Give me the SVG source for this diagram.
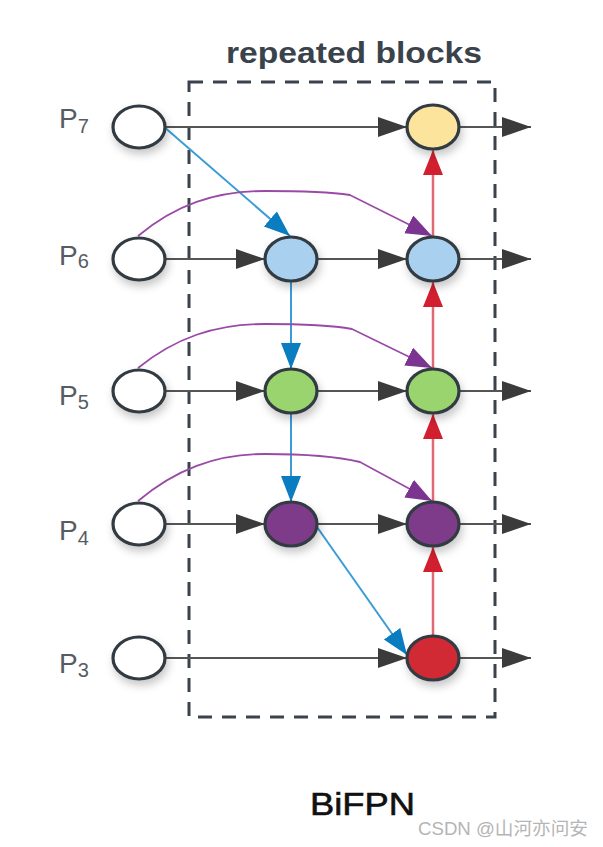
<svg xmlns="http://www.w3.org/2000/svg" width="603" height="847" viewBox="0 0 603 847">
<style>
.node{stroke:#333b43;stroke-width:3.2;filter:url(#sh)}
.row{stroke:#555;stroke-width:2;fill:none}
.blue{stroke:#3a9cd6;stroke-width:2;fill:none}
.red{stroke:#e06a74;stroke-width:2.5;fill:none}
.pur{stroke:#9a4aa6;stroke-width:1.8;fill:none}
.lab{font-family:"Liberation Sans",Arial,sans-serif;fill:#565c63}
</style>
<defs>
<filter id="sh" x="-50%" y="-50%" width="200%" height="200%">
<feDropShadow dx="2" dy="5" stdDeviation="4" flood-color="#000" flood-opacity="0.22"/>
</filter>
<marker id="ak" markerUnits="userSpaceOnUse" markerWidth="32" markerHeight="22" refX="29" refY="10" orient="auto"><path d="M0,0 L29,10 L0,20 z" fill="#3b3b3b"/></marker>
<marker id="ab" markerUnits="userSpaceOnUse" markerWidth="28" markerHeight="22" refX="26" refY="10" orient="auto"><path d="M0,0 L26,10 L0,20 z" fill="#0a7cc0"/></marker>
<marker id="ar" markerUnits="userSpaceOnUse" markerWidth="28" markerHeight="22" refX="25" refY="10" orient="auto"><path d="M0,0 L25,10 L0,20 z" fill="#d21f30"/></marker>
<marker id="ap" markerUnits="userSpaceOnUse" markerWidth="28" markerHeight="22" refX="26" refY="10" orient="auto"><path d="M0,0 L26,10 L0,20 z" fill="#7b3590"/></marker>
</defs>
<rect width="603" height="847" fill="#fff"/>
<g id="block">
<rect x="189" y="82" width="306" height="635" fill="none" stroke="#3a424b" stroke-width="3" stroke-dasharray="14 10"/>
<text x="226" y="63" font-family="Liberation Sans,Arial,sans-serif" font-weight="bold" font-size="30" fill="#3a424b" textLength="256" lengthAdjust="spacingAndGlyphs">repeated blocks</text>
</g>
<g id="connectors">
<line class="row" x1="165" y1="127" x2="407" y2="127" marker-end="url(#ak)"/>
<line class="row" x1="459" y1="127" x2="531" y2="127" marker-end="url(#ak)"/>
<line class="row" x1="165" y1="259" x2="265" y2="259" marker-end="url(#ak)"/>
<line class="row" x1="317" y1="259" x2="407" y2="259" marker-end="url(#ak)"/>
<line class="row" x1="459" y1="259" x2="531" y2="259" marker-end="url(#ak)"/>
<line class="row" x1="165" y1="391" x2="265" y2="391" marker-end="url(#ak)"/>
<line class="row" x1="317" y1="391" x2="407" y2="391" marker-end="url(#ak)"/>
<line class="row" x1="459" y1="391" x2="531" y2="391" marker-end="url(#ak)"/>
<line class="row" x1="165" y1="524" x2="265" y2="524" marker-end="url(#ak)"/>
<line class="row" x1="317" y1="524" x2="407" y2="524" marker-end="url(#ak)"/>
<line class="row" x1="459" y1="524" x2="531" y2="524" marker-end="url(#ak)"/>
<line class="row" x1="165" y1="658" x2="407" y2="658" marker-end="url(#ak)"/>
<line class="row" x1="459" y1="658" x2="531" y2="658" marker-end="url(#ak)"/>
<line class="blue" x1="163" y1="126" x2="290" y2="236" marker-end="url(#ab)"/>
<line class="blue" x1="291" y1="281" x2="291" y2="369" marker-end="url(#ab)"/>
<line class="blue" x1="291" y1="413" x2="291" y2="502" marker-end="url(#ab)"/>
<line class="blue" x1="317" y1="527" x2="407" y2="655" marker-end="url(#ab)"/>
<line class="red" x1="433" y1="636" x2="433" y2="547" marker-end="url(#ar)"/>
<line class="red" x1="433" y1="502" x2="433" y2="414" marker-end="url(#ar)"/>
<line class="red" x1="433" y1="369" x2="433" y2="282" marker-end="url(#ar)"/>
<line class="red" x1="433" y1="237" x2="433" y2="150" marker-end="url(#ar)"/>
<path class="pur" d="M138,236 C175,205 215,191 265,191 C300,191 330,192 350,195 L432,236" marker-end="url(#ap)"/>
<path class="pur" d="M138,368 C175,338 215,324 265,324 C300,324 330,325 352,329 L432,368" marker-end="url(#ap)"/>
<path class="pur" d="M138,501 C175,470 215,454 265,454 C300,454 335,456 360,462 L432,501" marker-end="url(#ap)"/>
</g>
<g id="P7"><ellipse class="node" cx="139" cy="127" rx="26" ry="21" fill="#fff"/><text class="lab" x="59" y="128" font-size="28">P<tspan font-size="20" dy="5">7</tspan></text></g>
<g id="P6"><ellipse class="node" cx="139" cy="259" rx="26" ry="21" fill="#fff"/><text class="lab" x="59" y="265" font-size="28">P<tspan font-size="20" dy="3">6</tspan></text></g>
<g id="P5"><ellipse class="node" cx="139" cy="391" rx="26" ry="21" fill="#fff"/><text class="lab" x="59" y="405" font-size="28">P<tspan font-size="20" dy="4">5</tspan></text></g>
<g id="P4"><ellipse class="node" cx="139" cy="524" rx="26" ry="21" fill="#fff"/><text class="lab" x="59" y="540" font-size="28">P<tspan font-size="20" dy="5">4</tspan></text></g>
<g id="P3"><ellipse class="node" cx="139" cy="658" rx="26" ry="21" fill="#fff"/><text class="lab" x="59" y="673" font-size="28">P<tspan font-size="20" dy="4">3</tspan></text></g>
<g id="m6"><ellipse class="node" cx="291" cy="259" rx="26" ry="22" fill="#a9d0ee"/></g>
<g id="m5"><ellipse class="node" cx="291" cy="391" rx="26" ry="22" fill="#9ad46e"/></g>
<g id="m4"><ellipse class="node" cx="291" cy="524" rx="26" ry="22" fill="#7e3b89"/></g>
<g id="o7"><ellipse class="node" cx="433" cy="127" rx="26" ry="22" fill="#fde49c"/></g>
<g id="o6"><ellipse class="node" cx="433" cy="259" rx="26" ry="22" fill="#a9d0ee"/></g>
<g id="o5"><ellipse class="node" cx="433" cy="391" rx="26" ry="22" fill="#9ad46e"/></g>
<g id="o4"><ellipse class="node" cx="433" cy="524" rx="26" ry="22" fill="#7e3b89"/></g>
<g id="o3"><ellipse class="node" cx="433" cy="658" rx="26" ry="22" fill="#d12a36"/></g>
<g id="title"><text x="310" y="815" font-family="Liberation Sans,Arial,sans-serif" font-size="32" fill="#111" stroke="#111" stroke-width="0.6" textLength="105" lengthAdjust="spacingAndGlyphs">BiFPN</text></g>
<g id="watermark"><text x="418" y="835" font-family="Liberation Sans,'Noto Sans CJK SC',sans-serif" font-size="18" fill="#b5b5b5" textLength="170" lengthAdjust="spacingAndGlyphs">CSDN @山河亦问安</text></g>
</svg>
